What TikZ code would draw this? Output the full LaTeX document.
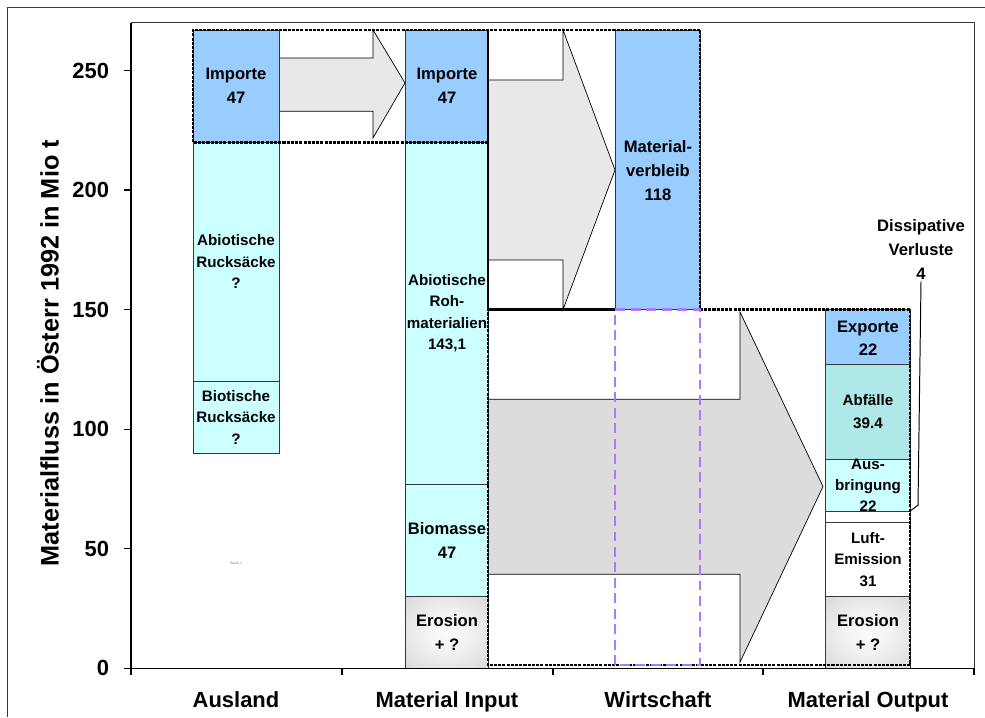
\documentclass[tikz,border=0pt]{standalone}
\usepackage{fontspec}
\setmainfont{Liberation Sans}
\definecolor{importblue}{RGB}{153,204,255}
\definecolor{rawcyan}{RGB}{204,255,255}
\definecolor{wastecyan}{RGB}{175,232,232}
\definecolor{arrowgray}{RGB}{232,232,232}
\definecolor{bigarrowgray}{RGB}{220,220,220}
\definecolor{framegray}{RGB}{55,55,55}
\definecolor{stockviolet}{RGB}{172,122,255}
\pgfdeclareradialshading{erosionshade}{\pgfpoint{0bp}{0bp}}{color(0bp)=(white!98!black); color(14bp)=(white!95!black); color(50bp)=(black!22); color(70bp)=(black!32)}
\begin{document}
\begin{tikzpicture}[x=0.025cm,y=0.05975cm,
  bar/.style={draw=framegray,line width=0.5pt},
  flowbox/.style={line width=1.8pt,dash pattern=on 2.2pt off 0.8pt},
  bigtxt/.style={font=\bfseries\fontsize{11.8}{17}\selectfont,align=center,inner sep=1pt},
  smalltxt/.style={font=\bfseries\fontsize{10.8}{15.2}\selectfont,align=center,inner sep=1pt},
  axistxt/.style={font=\bfseries\fontsize{15.6}{18}\selectfont}]
\useasboundingbox (0,-20.5) rectangle (985,279.5);
\draw[framegray,line width=0.7pt] (7,-20.5) -- (7,276.2) -- (985,276.2);
\draw[framegray,line width=0.6pt] (131,270) -- (974,270) -- (974,-2.9);
\draw[fill=arrowgray,line width=0.5pt] (279,233) -- (373,233) -- (373,221.8) -- (405,244.8) -- (373,267) -- (373,255.2) -- (279,255.2);
\draw[fill=arrowgray,line width=0.5pt] (488,170.7) -- (563,170.7) -- (563,150) -- (615,208.4) -- (563,267) -- (563,246) -- (488,246);
\draw[fill=bigarrowgray,line width=0.5pt] (488,39.3) -- (740,39.3) -- (740,2.5) -- (823,76) -- (740,149) -- (740,112.5) -- (488,112.5);
\draw[bar,fill=rawcyan] (193,90) rectangle (279,120);
\draw[bar,fill=rawcyan] (193,120) rectangle (279,220);
\draw[bar,fill=importblue] (193,220) rectangle (279,267);
\shade[shading=erosionshade] (405,0) rectangle (488,30);
\draw[bar] (405,0) rectangle (488,30);
\draw[bar,fill=rawcyan] (405,30) rectangle (488,77);
\draw[bar,fill=rawcyan] (405,77) rectangle (488,220);
\draw[bar,fill=importblue] (405,220) rectangle (488,267);
\draw[bar,fill=importblue] (615,150) rectangle (700,267);
\shade[shading=erosionshade] (825,0) rectangle (910,30);
\draw[bar] (825,0) rectangle (910,30);
\draw[bar,fill=white] (825,30) rectangle (910,61);
\draw[bar,fill=white] (825,61) rectangle (910,65.7);
\draw[bar,fill=rawcyan] (825,65.7) rectangle (910,87.4);
\draw[bar,fill=wastecyan] (825,87.4) rectangle (910,127);
\draw[bar,fill=importblue] (825,127) rectangle (910,150);
\draw[flowbox] (488,220) -- (193,220) -- (193,267) -- (700,267) -- (700,150) -- (910,150) -- (910,1.3) -- (488,1.3) -- (488,150);
\draw[line width=1.8pt] (488,267) -- (488,150) -- (615,150);
\draw[stockviolet,line width=1.9pt,dash pattern=on 7pt off 4pt] (615,1.3) rectangle (700,150);
\node[bigtxt] (ausimp) at (236,243.5) {Importe\\47};
\node[smalltxt] (ausabio) at (236,170) {Abiotische\\Rucksäcke\\?};
\node[smalltxt] (ausbio) at (236,105) {Biotische\\Rucksäcke\\?};
\node[font=\fontsize{2.5}{3}\selectfont,text=gray] (saeule) at (236,44) {Säule 1};
\node[bigtxt] (inimp) at (447,243.5) {Importe\\47};
\node[smalltxt] (inabio) at (447,148.5) {Abiotische\\Roh-\\materialien\\143,1};
\node[bigtxt] (inbio) at (447,53.5) {Biomasse\\47};
\node[bigtxt] (inero) at (447,15) {Erosion\\+ ?};
\node[bigtxt] (verbleib) at (658,208) {Material-\\verbleib\\118};
\node[bigtxt] (outexp) at (868,138) {Exporte\\22};
\node[smalltxt] (outabf) at (868,107.3) {Abfälle\\[1.5pt]39.4};
\node[smalltxt] (outaus) at (868,76.5) {Aus-\\bringung\\22};
\node[smalltxt] (outluft) at (868,45.5) {Luft-\\Emission\\31};
\node[bigtxt] (outero) at (868,15) {Erosion\\+ ?};
\node[bigtxt] (dissverl) at (921,175) {Dissipative\\Verluste\\4};
\coordinate (dvbend) at (918,68.2);
\coordinate (dvgap) at (910,65.7);
\draw[line width=0.7pt] (dissverl.south) -- (dvbend) -- (dvgap);
\draw[line width=1pt] (131,270) -- (131,0) -- (974,0);
\foreach \v in {0,50,...,250}{
  \draw[line width=0.8pt] (124,\v) -- (131,\v);
  \node[axistxt,anchor=east] (tick\v) at (114,\v) {\v};
}
\foreach \x in {131,342,553,763,974}
  \draw[line width=0.8pt] (\x,0) -- (\x,-2.9);
\node[axistxt,anchor=base] (ausland) at (236,-16.3) {Ausland};
\node[axistxt,anchor=base] (matin) at (447,-16.3) {Material Input};
\node[axistxt,anchor=base] (wirtschaft) at (658,-16.3) {Wirtschaft};
\node[axistxt,anchor=base] (matout) at (868,-16.3) {Material Output};
\node[font=\bfseries\fontsize{18}{20}\selectfont,rotate=90] (ylab) at (48,131.8) {Materialfluss in Österr 1992 in Mio t};
\end{tikzpicture}
\end{document}
